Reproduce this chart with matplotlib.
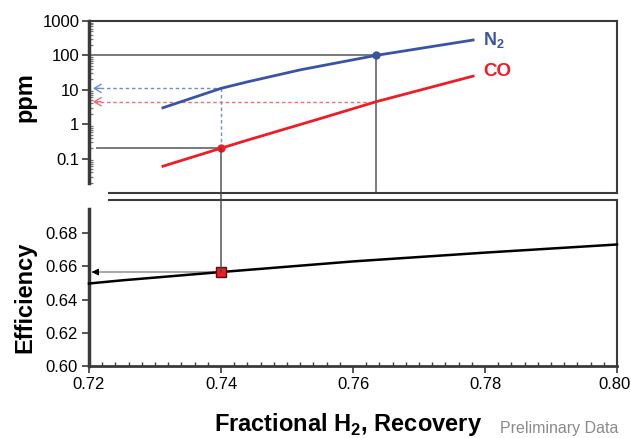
import matplotlib
matplotlib.use('Agg')
import matplotlib.pyplot as plt
import matplotlib.transforms as mtransforms
from matplotlib.patches import ConnectionPatch
from matplotlib.ticker import LogLocator, MultipleLocator, NullFormatter

# data
n2_x = [0.7312, 0.7400, 0.7440, 0.7520, 0.7635, 0.7782]
n2_ppm = [3.0, 11, 17, 38, 100, 280]
co_x = [0.7312, 0.7400, 0.7437, 0.7550, 0.7635, 0.7782]
co_ppm = [0.06, 0.2, 0.33, 1.45, 4.5, 25]
eff_x = [0.72, 0.725, 0.74, 0.76, 0.78, 0.80]
eff_y = [0.6497, 0.6516, 0.6566, 0.6630, 0.6683, 0.6732]

# operating points marked on the chart
pick_x = 0.74
pick_co = 0.2
pick_n2 = 11
pick_eff = 0.6566
limit_x = 0.7635
limit_n2 = 100
limit_co = 4.5

ppm_ticks = [0.1, 1, 10, 100, 1000]
ppm_labels = ['0.1', '1', '10', '100', '1000']
eff_ticks = [0.60, 0.62, 0.64, 0.66, 0.68]
eff_labels = ['0.60', '0.62', '0.64', '0.66', '0.68']
rec_ticks = [0.72, 0.74, 0.76, 0.78, 0.80]
rec_labels = ['0.72', '0.74', '0.76', '0.78', '0.80']

blue = '#3a54a4'
red = '#ee1c25'
blue_dash = '#6a8fd8'
red_dash = '#f26b73'
refgray = '#7a7a7a'
spine = '#3a3a3a'
tickfont = 12

plt.rcParams['font.family'] = ['Liberation Sans', 'DejaVu Sans']
plt.rcParams['mathtext.fontset'] = 'custom'
plt.rcParams['mathtext.rm'] = 'Liberation Sans:bold'
plt.rcParams['mathtext.bf'] = 'Liberation Sans:bold'

W, H = 631, 438
fig = plt.figure(figsize=(W / 100, H / 100), dpi=100)
ax1 = fig.add_axes([89 / W, 1 - 193 / H, 528 / W, 172 / H])
ax2 = fig.add_axes([89 / W, 1 - 366 / H, 528 / W, 166 / H])

# ---- top panel (ppm, log) ----
ax1.set_yscale('log')
ax1.set_xlim(0.72, 0.80)
ax1.set_ylim(0.01, 1000)

ax1.plot([0.72, limit_x], [limit_n2, limit_n2], color=refgray, lw=1.4, zorder=2)
ax1.plot([limit_x, limit_x], [0.01, limit_n2], color=refgray, lw=1.4, zorder=2)
ax1.plot([0.7212, pick_x], [pick_co, pick_co], color=refgray, lw=1.4, zorder=2)

ax1.plot([pick_x, pick_x], [pick_co, pick_n2], color=blue_dash, lw=1, ls=(0, (2.5, 2)), zorder=2)
ax1.plot([0.7207, pick_x], [pick_n2, pick_n2], color=blue_dash, lw=1, ls=(0, (2.5, 2)), zorder=2)
ax1.plot([0.7207, limit_x], [limit_co, limit_co], color=red_dash, lw=1, ls=(0, (2.5, 2)), zorder=2)
for yv, c in [(pick_n2, blue_dash), (limit_co, red_dash)]:
    ax1.annotate('', xy=(0.7206, yv), xytext=(0.7218, yv),
                 arrowprops=dict(arrowstyle='->,head_length=0.5,head_width=0.3',
                                 color=c, lw=1, shrinkA=0, shrinkB=0))

ax1.plot(n2_x, n2_ppm, color=blue, lw=2, zorder=3)
ax1.plot(co_x, co_ppm, color=red, lw=2, zorder=3)
ax1.plot([limit_x], [limit_n2], 'o', color=blue, ms=5, zorder=4)
ax1.plot([pick_x], [pick_co], 'o', color=red, ms=5, zorder=4)

ax1.text(0.7797, 280, r'N$_{\mathbf{2}}$', color=blue, fontsize=13, fontweight='bold', va='center')
ax1.text(0.7797, 33, 'CO', color=red, fontsize=13.5, fontweight='bold', va='center')

ax1.set_yticks(ppm_ticks)
ax1.set_yticklabels(ppm_labels, fontsize=tickfont)
ax1.yaxis.set_minor_locator(LogLocator(base=10, subs=[2, 3, 4, 5, 6, 7, 8, 9], numticks=20))
ax1.yaxis.set_minor_formatter(NullFormatter())
ax1.tick_params(axis='y', which='major', direction='out', length=5, width=1.2, color=spine, pad=2)
ax1.tick_params(axis='y', which='minor', direction='in', length=3, width=0.9, color='#777777')
ax1.tick_params(axis='x', which='both', bottom=False, labelbottom=False)

for s in ax1.spines.values():
    s.set_color(spine)
    s.set_linewidth(1.5)
ax1.spines['left'].set_linewidth(2.5)
ax1.spines['left'].set_bounds(0.02, 1000)
ax1.spines['bottom'].set_bounds(0.723, 0.80)

# ---- bottom panel (efficiency) ----
ax2.set_xlim(0.72, 0.80)
ax2.set_ylim(0.60, 0.70)

ax2.plot([0.7206, pick_x], [pick_eff, pick_eff], color='#aaaaaa', lw=1.5, zorder=2)
ax2.annotate('', xy=(0.7204, pick_eff), xytext=(0.7214, pick_eff),
             arrowprops=dict(arrowstyle='-|>,head_length=0.4,head_width=0.2',
                             color='black', lw=0.8, shrinkA=0, shrinkB=0))
ax2.plot(eff_x, eff_y, color='black', lw=1.8, zorder=3, clip_on=False)
ax2.plot([pick_x], [pick_eff], 's', color=red, mec='#5a1010', mew=1, ms=6.5, zorder=5)

ax2.set_xticks(rec_ticks)
ax2.set_xticklabels(rec_labels, fontsize=tickfont)
ax2.set_yticks(eff_ticks)
ax2.set_yticklabels(eff_labels, fontsize=tickfont)
ax2.xaxis.set_minor_locator(MultipleLocator(0.002))
ax2.tick_params(axis='both', which='major', direction='out', length=5, width=1.2, color=spine, pad=3)
ax2.tick_params(axis='x', which='minor', direction='in', length=3, width=1, color=spine)

# keep the last x label inside the canvas
last = ax2.get_xticklabels()[-1]
last.set_transform(last.get_transform() + mtransforms.ScaledTranslation(-3 / 100, 0, fig.dpi_scale_trans))

for s in ax2.spines.values():
    s.set_color(spine)
    s.set_linewidth(1.5)
ax2.spines['left'].set_linewidth(2.5)
ax2.spines['bottom'].set_linewidth(2)
ax2.spines['left'].set_bounds(0.60, 0.6946)
ax2.spines['top'].set_bounds(0.723, 0.80)

# vertical link between the two panels
con = ConnectionPatch(xyA=(pick_x, pick_co), coordsA=ax1.transData,
                      xyB=(pick_x, pick_eff), coordsB=ax2.transData,
                      color='#444444', lw=1, zorder=1)
fig.add_artist(con)

fig.text(25 / W, 1 - 97 / H, 'ppm', rotation=90, ha='center', va='center',
         fontsize=17, fontweight='bold')
fig.text(25 / W, 1 - 297 / H, 'Efficiency', rotation=90, ha='center', va='center',
         fontsize=17, fontweight='bold')
fig.text(348 / W, 1 - 424 / H, r'Fractional H$_{\mathbf{2}}$, Recovery', ha='center', va='center',
         fontsize=17, fontweight='bold')
fig.text(618 / W, 1 - 428 / H, 'Preliminary Data', ha='right', va='center',
         fontsize=11.5, color='#8a8a8a')

fig.savefig('out.png', dpi=100)
